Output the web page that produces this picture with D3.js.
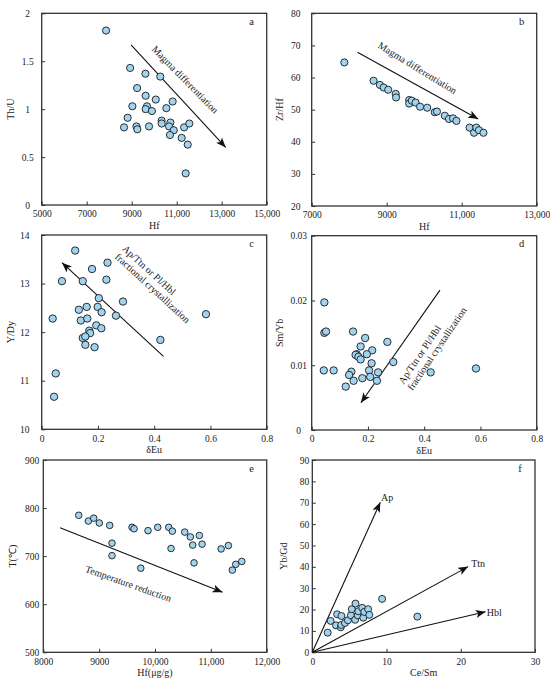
<!DOCTYPE html>
<html lang="en">
<head>
<meta charset="UTF-8">
<title>Zircon trace element diagrams</title>
<style>
  body { margin: 0; background: #fff; }
  svg text { font-family: "Liberation Serif", "Times New Roman", serif; fill: #222; }
  .frame { fill: none; stroke: #333; stroke-width: 1.3; }
  .dot { fill: #9fd3ef; stroke: #1a1a1a; stroke-width: 0.9; }
  .arrow { stroke: #111; stroke-width: 1.1; fill: none; }
  .tick line { stroke: #333; stroke-width: 1; }
</style>
</head>
<body>
<script src="https://d3js.org/d3.v7.min.js"></script>
<script>
// a: Hf vs Th/U
const aHf  = [7860, 8930, 9610, 10270, 9240, 9620, 10070, 10820, 9030, 9680, 9620, 9900, 10540, 8820, 8660, 9210, 9250, 9770, 10330, 10330, 10720, 10660, 10870, 10700, 11220, 11330, 11560, 11490, 11400];
const aThU = [1.82, 1.43, 1.37, 1.34, 1.22, 1.14, 1.10, 1.08, 1.03, 1.03, 1.00, 0.98, 1.01, 0.91, 0.81, 0.82, 0.79, 0.82, 0.88, 0.85, 0.86, 0.82, 0.78, 0.73, 0.70, 0.81, 0.85, 0.63, 0.33];
// b: Hf vs Zr/Hf
const bHf   = [7870, 8650, 8820, 8920, 9040, 9240, 9250, 9600, 9600, 9670, 9770, 9890, 10080, 10280, 10340, 10550, 10660, 10770, 10860, 11210, 11330, 11390, 11460, 11580];
const bZrHf = [64.7, 59.0, 57.7, 56.9, 56.2, 54.9, 53.8, 53.0, 51.9, 52.8, 52.2, 50.9, 50.6, 49.2, 49.4, 48.1, 47.1, 47.3, 46.5, 44.4, 42.8, 44.4, 43.6, 42.8];
// c: dEu vs Y/Dy
const cEu  = [0.119, 0.234, 0.179, 0.230, 0.072, 0.146, 0.203, 0.289, 0.132, 0.160, 0.199, 0.213, 0.039, 0.139, 0.162, 0.264, 0.584, 0.194, 0.212, 0.169, 0.172, 0.146, 0.155, 0.155, 0.188, 0.422, 0.050, 0.044];
const cYDy = [13.68, 13.43, 13.30, 13.08, 13.05, 13.05, 12.70, 12.63, 12.46, 12.52, 12.52, 12.41, 12.28, 12.24, 12.28, 12.34, 12.37, 12.14, 12.08, 12.03, 11.98, 11.88, 11.91, 11.74, 11.69, 11.84, 11.15, 10.67];
// d: dEu vs Sm/Yb
const dEu   = [0.045, 0.045, 0.051, 0.147, 0.190, 0.269, 0.174, 0.215, 0.160, 0.156, 0.196, 0.166, 0.174, 0.213, 0.290, 0.043, 0.078, 0.141, 0.133, 0.204, 0.236, 0.208, 0.180, 0.149, 0.232, 0.121, 0.423, 0.584];
const dSmYb = [0.0197, 0.0150, 0.0152, 0.0152, 0.0142, 0.0136, 0.0129, 0.0123, 0.0117, 0.0116, 0.0117, 0.0113, 0.0109, 0.0103, 0.0105, 0.0092, 0.0092, 0.0090, 0.0085, 0.0092, 0.0089, 0.0082, 0.0080, 0.0076, 0.0076, 0.0067, 0.0089, 0.0095];
// e: Hf vs T
const eHf = [8634, 8807, 8903, 9003, 9189, 9230, 9230, 9589, 9625, 9875, 10049, 10246, 10311, 10533, 10633, 10794, 10675, 10843, 10287, 10699, 9745, 11184, 11314, 11385, 11446, 11554];
const eT  = [785, 773, 779, 769, 764, 727, 701, 760, 757, 753, 760, 760, 752, 750, 740, 743, 723, 725, 716, 686, 675, 715, 722, 671, 683, 689];
// f: Ce/Sm vs Yb/Gd
const fCeSm = [2.07, 2.47, 3.35, 3.92, 3.19, 3.84, 3.90, 4.40, 4.80, 5.20, 5.32, 5.82, 5.77, 6.12, 6.20, 6.72, 6.87, 7.00, 7.52, 7.68, 9.40, 14.15];
const fYbGd = [9.2, 14.7, 17.8, 17.0, 12.6, 11.7, 12.8, 13.7, 15.0, 17.3, 20.2, 22.8, 15.2, 17.3, 19.2, 20.8, 16.2, 18.9, 20.2, 17.5, 25.0, 16.7];

// tick values
const aXTicks = [5000, 7000, 9000, 11000, 13000, 15000];
const aYTicks = [0, 0.5, 1, 1.5, 2];
const bXTicks = [7000, 9000, 11000, 13000];
const bYTicks = [20, 30, 40, 50, 60, 70, 80];
const cXTicks = [0, 0.2, 0.4, 0.6, 0.8];
const cYTicks = [10, 11, 12, 13, 14];
const dXTicks = [0, 0.2, 0.4, 0.6, 0.8];
const dYTicks = [0, 0.01, 0.02, 0.03];
const eXTicks = [8000, 9000, 10000, 11000, 12000];
const eYTicks = [500, 600, 700, 800, 900];
const fXTicks = [0, 10, 20, 30];
const fYTicks = [0, 10, 20, 30, 40, 50, 60, 70, 80, 90];

// trend arrows, in data units [start, end]
const aArrow = [[8970, 1.67], [13180, 0.60]];
const bArrow = [[8220, 67.9], [11440, 47.1]];
const cArrow = [[0.433, 11.50], [0.072, 13.43]];
const dArrow = [[0.456, 0.0216], [0.175, 0.0042]];
const eArrow = [[8300, 759], [11210, 625]];
const fVectors = ["Ap", "Ttn", "Hbl"];
const fVecEnd  = [[9.16, 70.2], [21.0, 40.1], [23.35, 19.0]];
const fVecLab  = [[9.26, 72.3], [21.4, 41.6], [23.5, 18.5]];

const hfFmt = d => d >= 10000 ? d3.format(",")(d) : String(d);

const panels = [
  { id: "a", box: [41.7, 13.3, 266.7, 205], xd: [5000, 15000], yd: [0, 2], xt: aXTicks, yt: aYTicks, xf: hfFmt,
    xs: aHf, ys: aThU, xl: "Hf", yl: "Th/U", ylx: 10, r: 3.6, yLab: { anchor: "middle", off: 14 },
    arrow: aArrow, text: ["Magma differentiation"], tpos: [11380, 1.31], tang: 45.5, talign: "middle" },
  { id: "b", box: [311.7, 13.3, 536.7, 206], xd: [7000, 13000], yd: [20, 80], xt: bXTicks, yt: bYTicks, xf: hfFmt,
    xs: bHf, ys: bZrHf, xl: "Hf", yl: "Zr/Hf", ylx: 279, r: 3.6, yLab: { anchor: "middle", off: 16 },
    arrow: bArrow, text: ["Magma differentiation"], tpos: [9821, 63.0], tang: 31.5, talign: "middle" },
  { id: "c", box: [41.7, 235, 266.7, 429.3], xd: [0, 0.8], yd: [10, 14], xt: cXTicks, yt: cYTicks,
    xs: cEu, ys: cYDy, xl: "\u03b4Eu", yl: "Y/Dy", ylx: 10, r: 3.7, yLab: { anchor: "middle", off: 17 },
    arrow: cArrow, text: ["Ap/Ttn or Pl/Hbl", "fractional crystallization"], tpos: [0.2795, 13.67], tang: 42.5, talign: "start" },
  { id: "d", box: [311.7, 235.7, 536.7, 430], xd: [0, 0.8], yd: [0, 0.03], xt: dXTicks, yt: dYTicks,
    xs: dEu, ys: dSmYb, xl: "\u03b4Eu", yl: "Sm/Yb", ylx: 279, r: 3.7, yLab: { anchor: "middle", off: 13 },
    arrow: dArrow, text: ["Ap/Ttn or Pl/Hbl", "fractional crystallization"], tpos: [0.332, 0.0068], tang: -56, talign: "start" },
  { id: "e", box: [43.3, 460, 266.7, 652.3], xd: [8000, 12000], yd: [500, 900], xt: eXTicks, yt: eYTicks, xf: hfFmt,
    xs: eHf, ys: eT, xl: "Hf(\u03bcg/g)", yl: "T(\u2103)", ylx: 12, r: 3.3, yLab: { anchor: "end", off: 4 },
    arrow: eArrow, text: ["Temperature reduction"], tpos: [9522, 643], tang: 19.5, talign: "middle" },
  { id: "f", box: [312.3, 460, 535, 652.3], xd: [0, 30], yd: [0, 90], xt: fXTicks, yt: fYTicks,
    xs: fCeSm, ys: fYbGd, xl: "Ce/Sm", yl: "Yb/Gd", ylx: 283, r: 3.5, yLab: { anchor: "end", off: 3 } }
];

const svg = d3.select("body").append("svg")
  .attr("width", 550)
  .attr("height", 682);

svg.append("defs").append("marker")
  .attr("id", "head")
  .attr("markerUnits", "userSpaceOnUse")
  .attr("viewBox", "0 0 10 8")
  .attr("refX", 10).attr("refY", 4)
  .attr("markerWidth", 10).attr("markerHeight", 8)
  .attr("orient", "auto")
  .append("path")
  .attr("d", "M0,0 L10,4 L0,8 L2.5,4 Z")
  .attr("fill", "#111");

const serif = '"Liberation Serif", "Times New Roman", serif';

panels.forEach(p => {
  const [x0, y0, x1, y1] = p.box;
  const x = d3.scaleLinear().domain(p.xd).range([x0, x1]);
  const y = d3.scaleLinear().domain(p.yd).range([y1, y0]);
  const g = svg.append("g");

  // bottom axis, ticks pointing inward
  const xa = g.append("g")
    .attr("transform", `translate(0,${y1})`)
    .call(d3.axisBottom(x).tickValues(p.xt).tickSizeInner(-3.5).tickSizeOuter(0).tickPadding(5.5)
      .tickFormat(p.xf || (d => String(d))));
  xa.attr("font-family", serif);
  xa.select(".domain").remove();
  xa.selectAll("text").attr("font-size", 9.5).attr("fill", "#222");

  // left axis
  const ya = g.append("g")
    .attr("transform", `translate(${x0},0)`)
    .call(d3.axisLeft(y).tickValues(p.yt).tickSizeInner(-3.5).tickSizeOuter(0).tickFormat(d => String(d)));
  ya.attr("font-family", serif);
  ya.select(".domain").remove();
  ya.selectAll("text").attr("font-size", 9.5).attr("fill", "#222")
    .attr("text-anchor", p.yLab.anchor)
    .attr("x", -p.yLab.off);

  g.append("rect").attr("class", "frame")
    .attr("x", x0).attr("y", y0)
    .attr("width", x1 - x0).attr("height", y1 - y0);

  // axis titles
  g.append("text")
    .attr("x", (x0 + x1) / 2).attr("y", y1 + 23.5)
    .attr("text-anchor", "middle").attr("font-size", 10)
    .text(p.xl);
  g.append("text")
    .attr("transform", `translate(${p.ylx},${(y0 + y1) / 2}) rotate(-90)`)
    .attr("text-anchor", "middle").attr("dy", "0.35em").attr("font-size", 10)
    .text(p.yl);

  // panel letter
  g.append("text")
    .attr("x", x1 - 15).attr("y", y0 + 11.5)
    .attr("text-anchor", "middle").attr("font-size", 10.5)
    .text(p.id);

  // trend arrow and its label
  if (p.arrow) {
    const [s, e] = p.arrow;
    g.append("line").attr("class", "arrow")
      .attr("x1", x(s[0])).attr("y1", y(s[1]))
      .attr("x2", x(e[0])).attr("y2", y(e[1]))
      .attr("marker-end", "url(#head)");
    const t = g.append("text")
      .attr("transform", `translate(${x(p.tpos[0])},${y(p.tpos[1])}) rotate(${p.tang})`)
      .attr("text-anchor", p.talign).attr("font-size", 10);
    const n = p.text.length;
    p.text.forEach((line, i) => {
      t.append("tspan").attr("x", 0)
        .attr("y", (i - (n - 1) / 2) * 11 + 3.5)
        .text(line);
    });
  }

  // mineral vectors in panel f
  if (p.id === "f") {
    fVectors.forEach((name, i) => {
      g.append("line").attr("class", "arrow")
        .attr("x1", x(0)).attr("y1", y(0))
        .attr("x2", x(fVecEnd[i][0])).attr("y2", y(fVecEnd[i][1]))
        .attr("marker-end", "url(#head)");
      g.append("text")
        .attr("x", x(fVecLab[i][0])).attr("y", y(fVecLab[i][1]))
        .attr("dy", "0.35em").attr("font-size", 10)
        .text(name);
    });
  }

  g.selectAll("circle.dot")
    .data(p.xs.map((v, i) => [v, p.ys[i]]))
    .enter().append("circle")
    .attr("class", "dot")
    .attr("cx", d => x(d[0]))
    .attr("cy", d => y(d[1]))
    .attr("r", p.r);
});
</script>
</body>
</html>
